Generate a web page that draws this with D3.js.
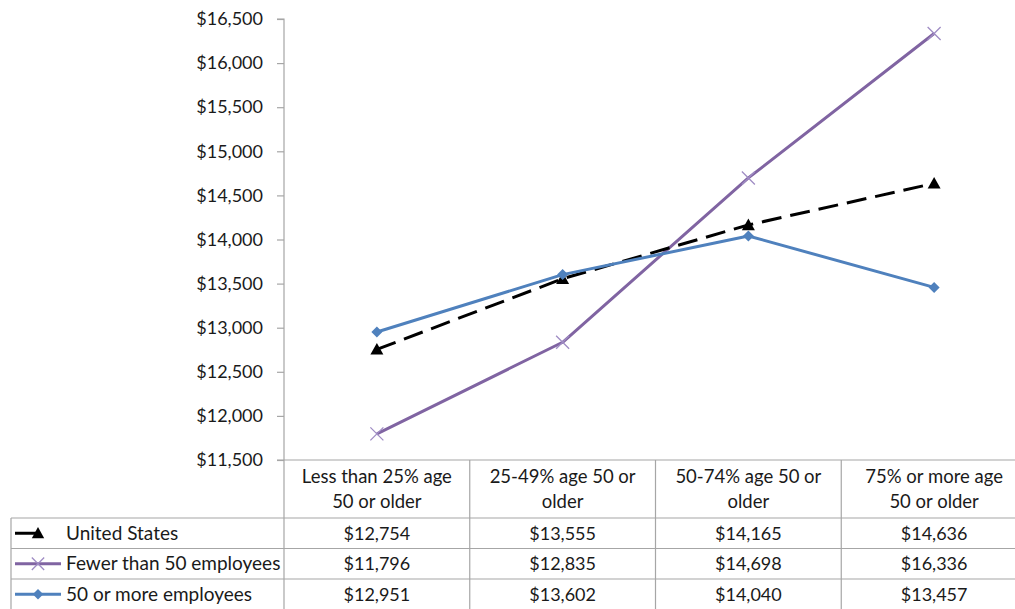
<!DOCTYPE html>
<html><head><meta charset="utf-8">
<script src="https://cdn.jsdelivr.net/npm/d3@7"></script>
<style>
body{margin:0;background:#fff;}
svg{display:block;font-family:Lato, "Open Sans", sans-serif;}
</style></head>
<body>
<svg id="chart" width="1015" height="609"></svg>
<script>
const categories = [["Less than 25% age","50 or older"],["25-49% age 50 or","older"],["50-74% age 50 or","older"],["75% or more age","50 or older"]];
const seriesNames = ["United States","Fewer than 50 employees","50 or more employees"];
const usValues = [12754,13555,14165,14636];
const fewerValues = [11796,12835,14698,16336];
const moreValues = [12951,13602,14040,13457];
const yTicks = [11500,12000,12500,13000,13500,14000,14500,15000,15500,16000,16500];

const series = [
  {name: seriesNames[0], values: usValues, color: "#000000", dash: "20,9", marker: "triangle"},
  {name: seriesNames[1], values: fewerValues, color: "#8064A2", dash: null, marker: "x"},
  {name: seriesNames[2], values: moreValues, color: "#4F81BD", dash: null, marker: "diamond"}
];

const svg = d3.select("#chart");
const plotLeft = 284, plotRight = 1027, plotTop = 19, plotBottom = 460;
const gridColor = "#A6A6A6";
const textColor = "#1a1a1a";

const catIdx = d3.range(categories.length);
const x = d3.scaleBand().domain(catIdx).range([plotLeft, plotRight]);
const y = d3.scaleLinear().domain([11500, 16500]).range([plotBottom, plotTop]);
const fmt = d => "$" + d3.format(",")(d);

// Y axis
const yAxis = svg.append("g").attr("transform", `translate(${plotLeft},0)`)
  .call(d3.axisLeft(y).tickValues(yTicks).tickSize(7).tickPadding(14).tickFormat(fmt));
yAxis.select(".domain").attr("stroke", gridColor).attr("stroke-width", 1.2).attr("d", `M-7,${plotTop}H0V${plotBottom}`);
yAxis.selectAll(".tick line").attr("stroke", gridColor).attr("stroke-width", 1.2);
yAxis.selectAll(".tick text").attr("fill", textColor).style("font-size", "18px").style("font-family", "Lato, sans-serif");

// Table
const tableTop = plotBottom, headerH = 58, rowH = 30.5, tableLeft = 11;
const rowsTop = tableTop + headerH;
const tg = svg.append("g");
tg.append("line").attr("x1", plotLeft - 7).attr("x2", plotRight).attr("y1", tableTop).attr("y2", tableTop).attr("stroke", gridColor).attr("stroke-width", 1.2);
for (let i = 0; i <= series.length; i++) {
  const yy = rowsTop + i * rowH;
  tg.append("line").attr("x1", tableLeft).attr("x2", plotRight).attr("y1", yy).attr("y2", yy).attr("stroke", gridColor).attr("stroke-width", 1.2);
}
tg.append("line").attr("x1", tableLeft).attr("x2", tableLeft).attr("y1", rowsTop).attr("y2", rowsTop + rowH * series.length).attr("stroke", gridColor).attr("stroke-width", 1.2);
catIdx.forEach(i => {
  if (i === 0) return;
  const xx = x(i);
  tg.append("line").attr("x1", xx).attr("x2", xx).attr("y1", tableTop).attr("y2", rowsTop + rowH * series.length).attr("stroke", gridColor).attr("stroke-width", 1.2);
});
tg.append("line").attr("x1", plotLeft).attr("x2", plotLeft).attr("y1", plotBottom).attr("y2", rowsTop + rowH * series.length).attr("stroke", gridColor).attr("stroke-width", 1.2);

catIdx.forEach(i => {
  const cx = x(i) + x.bandwidth() / 2;
  categories[i].forEach((line, j) => {
    tg.append("text").attr("x", cx).attr("y", tableTop + 23 + j * 25)
      .attr("text-anchor", "middle").attr("fill", textColor).style("font-size", "18.5px").text(line);
  });
});

function drawMarker(g, type, cx, cy, color, scale) {
  scale = scale || 1;
  if (type === "triangle") {
    const s = 6.5 * scale;
    g.append("path").attr("d", `M${cx},${cy - s}L${cx + s},${cy + s * 0.8}L${cx - s},${cy + s * 0.8}Z`).attr("fill", color);
  } else if (type === "diamond") {
    const s = 5.5 * scale;
    g.append("path").attr("d", `M${cx},${cy - s}L${cx + s},${cy}L${cx},${cy + s}L${cx - s},${cy}Z`).attr("fill", color);
  } else if (type === "x") {
    const s = 6.5 * scale;
    g.append("path").attr("d", `M${cx - s},${cy - s}L${cx + s},${cy + s}M${cx - s},${cy + s}L${cx + s},${cy - s}`)
      .attr("stroke", "#9F8CC4").attr("stroke-width", 1.3).attr("fill", "none");
  }
}

series.forEach((s, r) => {
  const cy = rowsTop + r * rowH + rowH / 2;
  const lg = svg.append("g");
  lg.append("line").attr("x1", 15).attr("x2", s.marker === "triangle" ? 40 : 61).attr("y1", cy).attr("y2", cy).attr("stroke", s.color).attr("stroke-width", 3);
  drawMarker(lg, s.marker, 38, cy, s.color, 0.95);
  lg.append("text").attr("x", 66).attr("y", cy + 6.5)
    .attr("fill", textColor).style("font-size", "19px").text(s.name);
  s.values.forEach((v, i) => {
    lg.append("text").attr("x", x(i) + x.bandwidth() / 2).attr("y", cy + 6.5)
      .attr("text-anchor", "middle").attr("fill", textColor).style("font-size", "18px").text(fmt(v));
  });
});

const line = d3.line().x((d, i) => x(i) + x.bandwidth() / 2).y(d => y(d));
const order = [series[1], series[0], series[2]];
order.forEach(s => {
  const g = svg.append("g");
  g.append("path").datum(s.values).attr("d", line).attr("fill", "none")
    .attr("stroke", s.color).attr("stroke-width", 3).attr("stroke-dasharray", s.dash)
    .attr("stroke-linejoin", "round");
  s.values.forEach((v, i) => drawMarker(g, s.marker, x(i) + x.bandwidth() / 2, y(v), s.color));
});
</script>
</body></html>
